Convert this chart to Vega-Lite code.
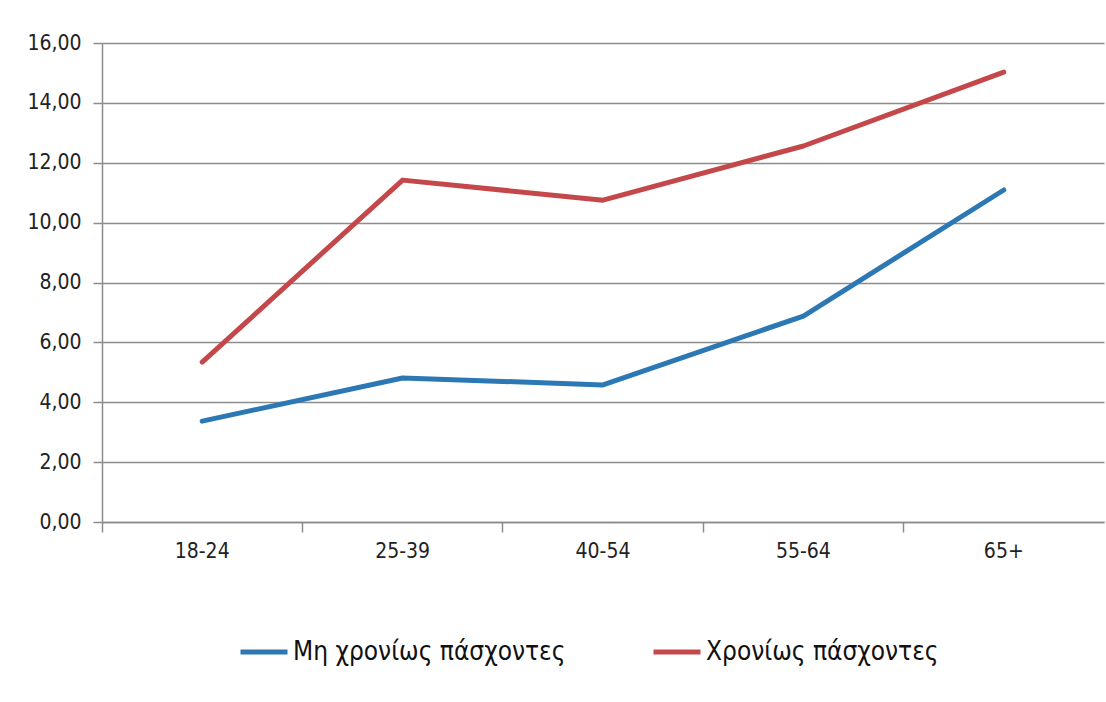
{
  "$schema": "https://vega.github.io/schema/vega-lite/v6.json",
  "width": 1002,
  "height": 479,
  "autosize": {"type": "none"},
  "padding": {"left": 102, "top": 43, "right": 2, "bottom": 180},
  "background": "white",
  "config": {
    "view": {"stroke": null},
    "font": "DejaVu Sans Condensed"
  },
  "data": {
    "values": [
      {"age": "18-24", "group": "Μη χρονίως πάσχοντες", "value": 3.37},
      {"age": "25-39", "group": "Μη χρονίως πάσχοντες", "value": 4.81},
      {"age": "40-54", "group": "Μη χρονίως πάσχοντες", "value": 4.58},
      {"age": "55-64", "group": "Μη χρονίως πάσχοντες", "value": 6.88},
      {"age": "65+", "group": "Μη χρονίως πάσχοντες", "value": 11.09},
      {"age": "18-24", "group": "Χρονίως πάσχοντες", "value": 5.34},
      {"age": "25-39", "group": "Χρονίως πάσχοντες", "value": 11.42},
      {"age": "40-54", "group": "Χρονίως πάσχοντες", "value": 10.75},
      {"age": "55-64", "group": "Χρονίως πάσχοντες", "value": 12.56},
      {"age": "65+", "group": "Χρονίως πάσχοντες", "value": 15.03}
    ]
  },
  "mark": {"type": "line", "strokeWidth": 5, "strokeCap": "round", "strokeJoin": "round"},
  "encoding": {
    "x": {
      "field": "age",
      "type": "nominal",
      "sort": null,
      "scale": {"type": "band", "paddingInner": 0, "paddingOuter": 0},
      "axis": {
        "title": null,
        "labelAngle": 0,
        "bandPosition": 0,
        "labelFontSize": 21,
        "labelColor": "#222222",
        "labelPadding": 8,
        "tickSize": 10,
        "tickColor": "#8c8c8c",
        "tickWidth": 1.5,
        "domainColor": "#8c8c8c",
        "domainWidth": 1.5,
        "grid": false
      }
    },
    "y": {
      "field": "value",
      "type": "quantitative",
      "scale": {"domain": [0, 16], "nice": false},
      "axis": {
        "title": null,
        "values": [0, 2, 4, 6, 8, 10, 12, 14, 16],
        "labelExpr": "replace(format(datum.value, '.2f'), '.', ',')",
        "labelFontSize": 21,
        "labelColor": "#222222",
        "labelPadding": 12,
        "tickSize": 9,
        "tickColor": "#8c8c8c",
        "tickWidth": 1.5,
        "domainColor": "#8c8c8c",
        "domainWidth": 1.5,
        "grid": true,
        "gridColor": "#8c8c8c",
        "gridWidth": 1.5
      }
    },
    "color": {
      "field": "group",
      "type": "nominal",
      "scale": {"domain": ["Μη χρονίως πάσχοντες", "Χρονίως πάσχοντες"], "range": ["#2b78b4", "#c4484a"]},
      "legend": {
        "title": null,
        "orient": "none",
        "legendX": 136,
        "legendY": 583,
        "direction": "horizontal",
        "columns": 2,
        "symbolType": "stroke",
        "symbolSize": 2209,
        "symbolStrokeWidth": 5,
        "labelFontSize": 26,
        "labelColor": "#111111",
        "labelOffset": 3,
        "columnPadding": 77,
        "labelLimit": 400
      }
    }
  }
}
